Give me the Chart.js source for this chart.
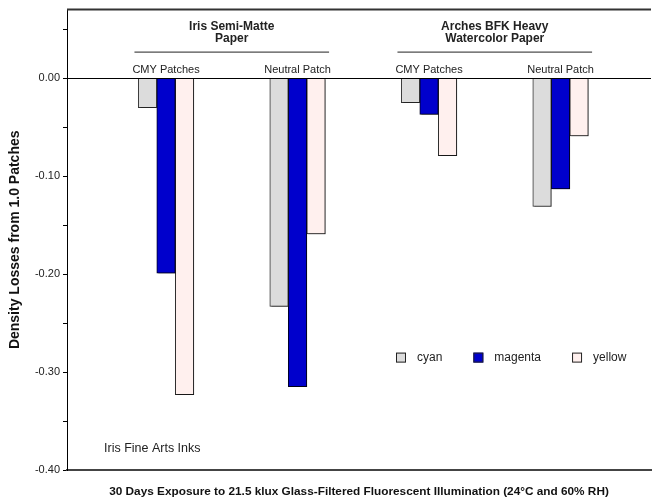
<!DOCTYPE html>
<html><head><meta charset="utf-8">
<script src="https://cdn.jsdelivr.net/npm/chart.js@4/dist/chart.umd.min.js"></script>
<style>html,body{margin:0;padding:0;background:#fff}#wrap{width:652px;height:502px;position:relative}</style>
</head><body><div id="wrap"><canvas id="c"></canvas></div>
<script>
// ---- data ----
const groupTitles = [["Iris Semi-Matte", "Paper"], ["Arches BFK Heavy", "Watercolor Paper"]];
const groupPos = [1.5, 3.5];
const categories = ["CMY Patches", "Neutral Patch", "CMY Patches", "Neutral Patch"];
const categoryPos = [1, 2, 3, 4];
const seriesNames = ["cyan", "magenta", "yellow"];
const cyanValues = [-0.030, -0.233, -0.025, -0.131];
const magentaValues = [-0.199, -0.315, -0.037, -0.113];
const yellowValues = [-0.323, -0.159, -0.079, -0.059];
const yTickValues = [0.05, 0.00, -0.05, -0.10, -0.15, -0.20, -0.25, -0.30, -0.35, -0.40];
const noteText = "Iris Fine Arts Inks";
const xTitle = "30 Days Exposure to 21.5 klux Glass-Filtered Fluorescent Illumination (24°C and 60% RH)";
const yTitle = "Density Losses from 1.0 Patches";

const FONT = "'Liberation Sans', Arial, Helvetica, sans-serif";
const fills = ["#dcdcdc", "#0000cc", "#fff0ee"];
const borders = ["#333333", "#000022", "#222222"];
const seriesValues = [cyanValues, magentaValues, yellowValues];

const datasets = seriesNames.map((name, s) => ({
  label: name,
  data: seriesValues[s].map((v, i) => ({ x: categoryPos[i], y: v })),
  backgroundColor: fills[s],
  borderColor: borders[s],
  borderWidth: 1,
  borderSkipped: 'start',
  barThickness: 18.5
}));

const shade = {
  id: 'shade',
  beforeDatasetsDraw(chart) {
    const ctx = chart.ctx;
    ctx.save();
    ctx.shadowColor = 'rgba(0,0,0,0.3)';
    ctx.shadowOffsetX = 1.5; ctx.shadowOffsetY = 1; ctx.shadowBlur = 0;
  },
  afterDatasetsDraw(chart) { chart.ctx.restore(); }
};

const decor = {
  id: 'decor',
  afterDatasetsDraw(chart) {
    const { ctx, chartArea: ca, scales: { x, y } } = chart;
    ctx.save();
    // zero line
    const y0 = Math.round(y.getPixelForValue(0)) + 0.5;
    ctx.strokeStyle = '#000'; ctx.lineWidth = 1;
    ctx.beginPath(); ctx.moveTo(ca.left, y0); ctx.lineTo(ca.right, y0); ctx.stroke();
    // top frame line
    ctx.strokeStyle = '#333'; ctx.lineWidth = 2;
    ctx.beginPath(); ctx.moveTo(ca.left, ca.top); ctx.lineTo(ca.right, ca.top); ctx.stroke();
    // category labels
    ctx.fillStyle = '#222';
    ctx.textAlign = 'center'; ctx.textBaseline = 'middle';
    ctx.font = "11px " + FONT;
    categories.forEach((c, i) => ctx.fillText(c, x.getPixelForValue(categoryPos[i]), y0 - 9));
    // group titles and underlines
    ctx.font = "bold 12px " + FONT;
    groupTitles.forEach((lines, g) => {
      const cx = x.getPixelForValue(groupPos[g]);
      lines.forEach((t, k) => ctx.fillText(t, cx, ca.top + 17.5 + k * 11.5));
      const xl = x.getPixelForValue(groupPos[g] - 0.74);
      const xr = x.getPixelForValue(groupPos[g] + 0.74);
      ctx.strokeStyle = '#222'; ctx.lineWidth = 1;
      ctx.beginPath(); ctx.moveTo(xl, ca.top + 42.5); ctx.lineTo(xr, ca.top + 42.5); ctx.stroke();
    });
    // note
    ctx.font = "12.5px " + FONT;
    ctx.textAlign = 'left';
    ctx.fillText(noteText, ca.left + 37, ca.top + 439);
    // legend
    let lx = ca.left + 329;
    const ly = ca.top + 348;
    chart.data.datasets.forEach((ds) => {
      ctx.fillStyle = ds.backgroundColor;
      ctx.fillRect(lx, ly - 5, 10, 10);
      ctx.strokeStyle = '#222'; ctx.lineWidth = 1;
      ctx.strokeRect(lx + 0.5, ly - 4.5, 9, 9);
      ctx.fillStyle = '#222';
      ctx.font = "12px " + FONT;
      ctx.fillText(ds.label, lx + 21, ly);
      lx += 21 + ctx.measureText(ds.label).width + 31;
    });
    ctx.restore();
  }
};

new Chart(document.getElementById('c'), {
  type: 'bar',
  data: { datasets },
  options: {
    responsive: true,
    maintainAspectRatio: false,
    animation: false,
    layout: { padding: { top: 8, right: 1, left: 0, bottom: 0 } },
    plugins: { legend: { display: false }, tooltip: { enabled: false } },
    scales: {
      x: {
        type: 'linear',
        min: 0.247, max: 4.688,
        offset: false,
        grid: { display: false },
        border: { display: true, color: '#444', width: 2 },
        ticks: { display: false },
        afterBuildTicks: (s) => { s.ticks = categoryPos.map(v => ({ value: v })); },
        afterFit: (s) => { s.height = 32; },
        title: {
          display: true, text: xTitle, color: '#111',
          font: { family: FONT, size: 11.8, weight: 'bold' },
          padding: { top: 0, bottom: 3 }
        }
      },
      y: {
        min: -0.40, max: 0.07,
        grid: {
          drawOnChartArea: false, drawTicks: true, tickLength: 4,
          tickColor: '#000'
        },
        border: { display: true, color: '#000', width: 1 },
        afterBuildTicks: (s) => { s.ticks = yTickValues.map(v => ({ value: v })); },
        afterFit: (s) => { s.width = 67; },
        ticks: {
          padding: 3, color: '#222',
          font: { family: FONT, size: 11 },
          callback: (v) => (Math.abs(Math.round(v * 100) % 10) === 0 ? Number(v).toFixed(2) : '')
        },
        title: {
          display: true, text: yTitle, color: '#111',
          font: { family: FONT, size: 14, weight: 'bold' },
          padding: { top: 7, bottom: 0 }
        }
      }
    }
  },
  plugins: [shade, decor]
});
</script></body></html>
